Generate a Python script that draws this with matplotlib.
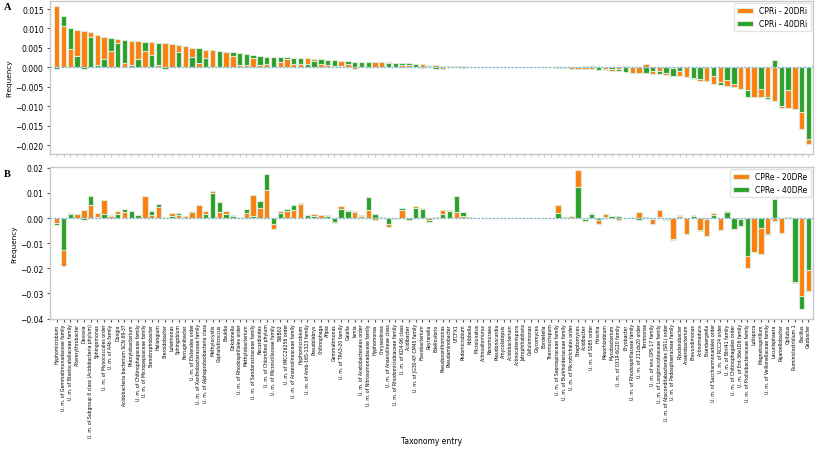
import numpy as np
import matplotlib
matplotlib.use("Agg")
import matplotlib.pyplot as plt

# taxonomy entries, same order in both panels
taxa = [
    "Hyphomicrobium", "U. m. of Gemmatimonadaceae family", "U. m. of Blastocatellaceae family",
    "Altererythrobacter", "Devosia", "U. m. of Subgroup 6 class (Acidobacteria phylum)",
    "Sphingomonas", "U. m. of Myxococcales order", "U. m. of A4b family", "Dongia",
    "Acidobacteria bacterium SCN 69-37", "Phenylobacterium", "U. m. of Chitinophagaceae family",
    "U. m. of Micropepsaceae family", "Stenotrophobacter", "Haliangium", "Steroidobacter",
    "Luteimonas", "Sphingobium", "Ferruginibacter", "U. m. of Elsterales order",
    "U. m. of Xanthobacteraceae family", "U. m. of Alphaproteobacteria class", "Methylocystis",
    "Cephaloticoccus", "Bauldia", "Dokdonella", "U. m. of Rhodospirillales order",
    "Methylobacterium", "U. m. of Sandaracinaceae family", "Nocardioides",
    "U. m. of Chloroflexi phylum", "U. m. of Microscillaceae family", "SWB02",
    "U. m. of IMCC26256 order", "U. m. of Anaerolineaceae family", "Hyphomicrobium",
    "U. m. of Amb-16S-1323 family", "Pseudolabrys", "Chitinophaga", "Afipia", "Gemmatimonas",
    "U. m. of TRA3-20 family", "Gaiella", "Iamia", "U. m. of Acetobacterales order",
    "U. m. of Nitrosomonadaceae family", "Hyphomonas", "Chryseolinea",
    "U. m. of Anaerolineae class", "U. m. of Rhodomicrobiaceae family", "U. m. of KD4-96 class",
    "Acidibacter", "U. m. of JG30-KF-CM45 family", "Flavobacterium", "Reyranella",
    "Bdellovibrio", "Pseudoxanthomonas", "Pseudaminobacter", "UTCFX1", "Pedomicrobium",
    "Kribbella", "Microlunatus", "Actinoallomurus", "Nonomuraea", "Pseudonocardia",
    "Amycolatopsis", "Acidobacterium", "Actinocatenispora", "Jatrophihabitans", "Cellulomonas",
    "Glycomyces", "Bordetella", "Thermocrispum", "U. m. of Saprospiraceae family",
    "U. m. of Burkholderiaceae family", "U. m. of Microtrichales order", "Streptomyces",
    "Acidibacter", "U. m. of S085 order", "Hirschia", "Mesorhizobium", "Mycobacterium",
    "U. m. of 0319-6G20 family", "Bryobacter", "U. m. of Rhodospirillaceae family",
    "U. m. of 211ds20 order", "Terrimonas", "U. m. of env.OPS 17 family",
    "U. m. of Longimicrobiaceae family", "U. m. of Absconditabacterales (SR1) order",
    "U. m. of Pedosphaeraceae family", "Rhodanobacter", "Anaerobacterium", "Brevundimonas",
    "Actinomadura", "Eisenbergiella", "U. m. of Saccharimonadales order", "U. m. of RCC24 order",
    "U. m. of Blrii41 family", "U. m. of Chitinophagales order", "U. m. of Ent-36e1D6 family",
    "U. m. of Prolixibacteraceae family", "Lutispora", "Magnetospirillum",
    "U. m. of Veillonellaceae family", "Lacunisphaera", "Pajaroellobacter", "Opitutus",
    "Ruminiclostridium 1", "Bacillus", "Geobacter",
]

cpri_20 = [
    0.0159, 0.0106, 0.0047, 0.0097, 0.0094, 0.0092, 0.0083, 0.0079, 0.0042, 0.0073,
    0.0012, 0.0067, 0.0067, 0.0042, 0.0065, 0.0006, 0.0062, 0.0060, 0.0057, 0.0054,
    0.0051, 0.0012, 0.0045, 0.0045, 0.0002, 0.0040, 0.0029, 0.0007, 0.0007, 0.0024,
    0.0007, 0.0009, 0.0000, 0.0013, 0.0022, 0.0008, 0.0008, 0.0023, 0.0022, 0.0009,
    0.0006, 0.0005, 0.0017, 0.0008, -0.0004, 0.0000, -0.0001, 0.0014, 0.0014, 0.0015,
    0.0000, 0.0007, 0.0007, 0.0000, 0.0009, 0.0006, 0.0006, -0.0005, 0.0002, 0.0000,
    -0.0002, 0.0000, 0.0000, 0.0000, 0.0000, 0.0000, 0.0000, 0.0000, 0.0000, 0.0000,
    0.0000, 0.0000, 0.0000, 0.0000, -0.0001, -0.0001, -0.0003, -0.0004, -0.0005, -0.0004,
    0.0003, -0.0003, -0.0008, -0.0005, 0.0004, -0.0013, -0.0013, 0.0009, -0.0016, -0.0008,
    -0.0019, -0.0001, -0.0023, -0.0024, -0.0030, -0.0036, -0.0036, -0.0042, -0.0038, -0.0047,
    -0.0049, -0.0055, -0.0059, -0.0077, -0.0077, -0.0077, -0.0086, -0.0103, -0.0105, -0.0106,
    -0.0158, -0.0197,
]
cpri_40 = [
    -0.0003, 0.0131, 0.0100, 0.0029, -0.0004, 0.0077, 0.0007, 0.0022, 0.0076, 0.0064,
    0.0071, 0.0006, 0.0022, 0.0066, 0.0033, 0.0064, -0.0004, 0.0000, 0.0039, 0.0000,
    0.0027, 0.0049, 0.0025, 0.0000, 0.0041, 0.0001, 0.0040, 0.0036, 0.0034, 0.0032,
    0.0029, 0.0026, 0.0026, 0.0026, 0.0026, 0.0024, 0.0024, 0.0009, 0.0017, 0.0021,
    0.0019, 0.0019, 0.0003, 0.0016, 0.0015, 0.0015, 0.0015, 0.0000, 0.0000, 0.0011,
    0.0012, 0.0011, 0.0011, 0.0010, -0.0002, 0.0005, -0.0004, 0.0005, 0.0004, 0.0003,
    0.0003, 0.0002, 0.0000, 0.0000, 0.0000, 0.0000, 0.0000, 0.0000, 0.0000, 0.0000,
    0.0000, 0.0000, 0.0000, 0.0000, 0.0000, 0.0000, 0.0000, 0.0001, 0.0004, 0.0004,
    -0.0006, -0.0006, -0.0003, -0.0009, -0.0011, 0.0000, 0.0000, -0.0014, -0.0009, -0.0016,
    -0.0014, -0.0023, -0.0008, 0.0000, -0.0027, -0.0030, 0.0000, -0.0021, -0.0044, -0.0032,
    -0.0043, 0.0000, -0.0077, 0.0000, -0.0055, -0.0081, 0.0018, -0.0098, -0.0057, 0.0000,
    -0.0114, -0.0183,
]

cpre_20 = [
    -0.0020, -0.0190, 0.0020, 0.0016, 0.0034, 0.0052, 0.0021, 0.0073, 0.0007, 0.0030,
    0.0025, 0.0000, 0.0000, 0.0087, 0.0013, 0.0046, 0.0004, 0.0021, 0.0013, 0.0008,
    0.0024, 0.0054, 0.0030, 0.0107, 0.0024, 0.0029, 0.0013, 0.0000, 0.0021, 0.0093,
    0.0040, 0.0113, -0.0045, 0.0027, 0.0030, 0.0033, 0.0056, 0.0000, 0.0017, 0.0011,
    0.0013, -0.0020, 0.0049, 0.0034, 0.0024, 0.0007, 0.0032, -0.0009, 0.0003, -0.0037,
    0.0000, 0.0033, 0.0000, 0.0048, 0.0042, -0.0009, 0.0004, 0.0034, 0.0033, 0.0024,
    0.0007, 0.0000, 0.0000, 0.0000, 0.0000, 0.0000, 0.0000, 0.0000, 0.0000, 0.0000,
    0.0000, 0.0000, 0.0000, 0.0000, 0.0052, 0.0005, 0.0009, 0.0190, -0.0004, 0.0019,
    -0.0025, 0.0017, 0.0009, -0.0007, 0.0000, 0.0003, 0.0023, 0.0001, -0.0023, 0.0033,
    -0.0007, -0.0083, 0.0007, -0.0065, 0.0013, -0.0049, -0.0073, 0.0020, -0.0049, 0.0030,
    0.0000, -0.0003, -0.0197, -0.0135, -0.0144, -0.0062, -0.0013, -0.0060, 0.0005, -0.0259,
    -0.0310, -0.0290,
]
cpre_40 = [
    -0.0027, -0.0129, 0.0016, 0.0000, -0.0007, 0.0089, 0.0004, 0.0016, 0.0013, 0.0016,
    0.0038, 0.0030, 0.0011, 0.0000, 0.0027, 0.0056, 0.0000, 0.0008, 0.0019, 0.0000,
    0.0030, 0.0000, 0.0017, 0.0099, 0.0062, 0.0017, 0.0007, 0.0005, 0.0036, 0.0007,
    0.0068, 0.0174, -0.0023, 0.0020, 0.0036, 0.0052, 0.0060, 0.0012, 0.0007, 0.0000,
    0.0007, -0.0015, 0.0036, 0.0030, 0.0030, 0.0012, 0.0085, 0.0016, 0.0000, -0.0025,
    -0.0003, 0.0041, -0.0007, 0.0041, 0.0038, -0.0017, 0.0000, 0.0017, 0.0027, 0.0087,
    0.0024, 0.0004, 0.0000, 0.0000, 0.0000, 0.0000, 0.0000, 0.0000, 0.0000, 0.0000,
    0.0000, 0.0000, 0.0000, 0.0000, 0.0020, 0.0000, 0.0000, 0.0123, -0.0010, 0.0015,
    -0.0006, 0.0003, 0.0007, 0.0008, 0.0000, 0.0000, -0.0007, 0.0004, -0.0003, 0.0004,
    -0.0004, -0.0088, 0.0011, 0.0000, 0.0008, -0.0053, -0.0002, 0.0011, -0.0001, 0.0023,
    -0.0044, -0.0030, -0.0150, 0.0000, -0.0038, -0.0069, 0.0077, 0.0000, 0.0001, -0.0255,
    -0.0360, -0.0208,
]

ORANGE = "#ff7f0e"
GREEN = "#2ca02c"
EDGE = "#dcebd8"


def overlay_bars(ax, a, b, la, lb):
    x = np.arange(len(a))
    ba = ax.bar(x, a, width=0.8, color=ORANGE, edgecolor=EDGE, linewidth=0.8, label=la)
    bb = ax.bar(x, b, width=0.8, color=GREEN, edgecolor=EDGE, linewidth=0.8, label=lb)
    # smaller bar in front so both stay visible
    for pa, pb, va, vb in zip(ba.patches, bb.patches, a, b):
        if abs(va) >= abs(vb):
            pa.set_zorder(2); pb.set_zorder(3)
        else:
            pa.set_zorder(3); pb.set_zorder(2)
    ax.axhline(0, color="#7fb2d9", lw=0.9, ls=(0, (1.5, 1.5)), zorder=4)
    ax.set_xlim(-1.0, len(a) - 0.3)
    for s in ax.spines.values():
        s.set_color("#c8c8c8")
        s.set_linewidth(1.0)
    ax.tick_params(axis="y", labelsize=5.5, length=2.5, pad=2, color="#555555")
    ax.set_ylabel("Frequency", fontsize=5.2, labelpad=2)
    leg = ax.legend(loc="upper right", fontsize=5.5, frameon=True, handlelength=2.2,
                    borderaxespad=0.3)
    leg.get_frame().set_edgecolor("#dddddd")
    return x


fig = plt.figure(figsize=(8.17, 4.56), dpi=100)
ax1 = fig.add_axes([0.0612, 0.661, 0.934, 0.335])
ax2 = fig.add_axes([0.0612, 0.298, 0.934, 0.334])

x = overlay_bars(ax1, cpri_20, cpri_40, "CPRi - 20DRi", "CPRi - 40DRi")
ax1.set_ylim(-0.0221, 0.0171)
ax1.set_yticks([0.015, 0.010, 0.005, 0.0, -0.005, -0.010, -0.015, -0.020])
ax1.set_yticklabels([f"{v:.3f}".replace("-", "\u2212") for v in ax1.get_yticks()])
ax1.set_xticks(x)
ax1.tick_params(axis="x", labelbottom=False, length=2, color="#cccccc")

overlay_bars(ax2, cpre_20, cpre_40, "CPRe - 20DRe", "CPRe - 40DRe")
ax2.set_ylim(-0.0402, 0.0204)
ax2.set_yticks([0.02, 0.01, 0.0, -0.01, -0.02, -0.03, -0.04])
ax2.set_yticklabels([f"{v:.2f}".replace("-", "\u2212") for v in ax2.get_yticks()])
ax2.set_xticks(x)
ax2.set_xticklabels(taxa, rotation=90, fontsize=3.35)
ax2.tick_params(axis="x", length=2, pad=1, color="#555555")
ax2.set_xlabel("Taxonomy entry", fontsize=5.5)
ax2.xaxis.set_label_coords(0.5, -0.765)

fig.text(0.005, 0.978, "A", fontsize=7.5, fontweight="bold", family=["Liberation Serif", "DejaVu Serif"])
fig.text(0.005, 0.612, "B", fontsize=7.5, fontweight="bold", family=["Liberation Serif", "DejaVu Serif"])

fig.savefig("out.png", dpi=100)
